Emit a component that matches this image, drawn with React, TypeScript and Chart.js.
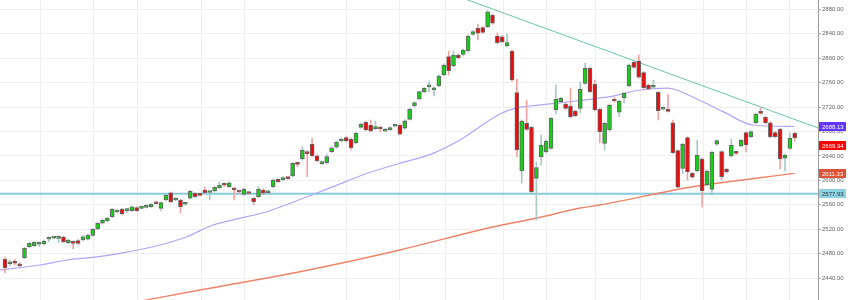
import React, { useEffect, useRef } from 'react';
import { Chart, registerables } from 'chart.js';

Chart.register(...registerables);

const opens = [
  2470.7, 2463.4, 2467.9, 2462.5, 2473.3, 2491.4, 2493.0, 2495.3, 2495.8, 2503.5,
  2505.5, 2505.1, 2507.2, 2497.9, 2499.5, 2501.2, 2502.3, 2503.5, 2510.0, 2520.3,
  2529.7, 2533.4, 2540.5, 2548.2, 2552.6, 2550.3, 2550.3, 2555.2, 2554.2, 2555.8,
  2556.8, 2564.5, 2554.2, 2567.8, 2579.7, 2567.8, 2567.8, 2560.8, 2570.6, 2578.8,
  2577.6, 2584.2, 2580.1, 2582.5, 2587.9, 2594.0, 2589.6, 2585.3, 2581.7, 2577.1,
  2579.2, 2570.6, 2573.2, 2584.2, 2579.7, 2589.6, 2601.7, 2601.0, 2603.8, 2607.1,
  2628.9, 2634.9, 2646.9, 2659.0, 2640.3, 2627.2, 2628.9, 2646.9, 2654.1, 2664.4,
  2669.8, 2667.2, 2661.6, 2686.8, 2695.0, 2690.6, 2684.5, 2686.8, 2680.3, 2682.9,
  2688.6, 2690.6, 2685.2, 2699.9, 2721.7, 2733.1, 2745.1, 2752.9, 2747.9, 2754.9,
  2772.4, 2802.4, 2787.6, 2805.2, 2806.3, 2811.7, 2839.0, 2848.9, 2849.9, 2851.5,
  2870.6, 2836.3, 2835.1, 2819.9, 2811.7, 2743.5, 2615.3, 2693.4, 2686.8, 2603.3,
  2638.7, 2646.9, 2652.4, 2715.1, 2728.7, 2724.9, 2721.7, 2713.5, 2717.9, 2758.8,
  2783.4, 2757.2, 2716.3, 2660.6, 2682.4, 2733.1, 2711.4, 2735.3, 2754.9, 2793.2,
  2795.3, 2776.2, 2756.1, 2752.3, 2744.1, 2716.3, 2716.8, 2694.3, 2648.5, 2619.7,
  2669.8, 2611.5, 2615.3, 2634.9, 2592.4, 2585.3, 2659.0, 2646.9, 2618.5, 2639.8,
  2646.4, 2656.2, 2678.0, 2671.4, 2694.3, 2712.4, 2703.2, 2694.3, 2678.0, 2683.5,
  2636.1, 2652.4, 2677.0,
];
const highs = [
  2474.5, 2469.6, 2470.4, 2465.0, 2490.5, 2498.5, 2500.0, 2499.0, 2502.0, 2507.7,
  2508.0, 2509.0, 2509.0, 2503.5, 2501.0, 2503.0, 2510.0, 2512.0, 2521.0, 2531.0,
  2536.5, 2539.5, 2554.0, 2552.0, 2554.0, 2554.0, 2558.5, 2557.0, 2558.0, 2560.5,
  2562.0, 2566.0, 2564.5, 2577.5, 2581.0, 2572.0, 2569.0, 2563.0, 2584.0, 2580.0,
  2579.0, 2589.1, 2582.0, 2590.0, 2597.3, 2596.0, 2597.5, 2588.0, 2583.0, 2587.0,
  2580.5, 2572.0, 2590.7, 2586.0, 2584.5, 2602.0, 2603.0, 2606.0, 2605.0, 2629.5,
  2630.0, 2655.4, 2648.5, 2668.8, 2642.0, 2632.0, 2643.1, 2655.0, 2664.5, 2669.0,
  2671.5, 2669.0, 2678.5, 2694.0, 2697.0, 2698.8, 2697.1, 2688.5, 2685.0, 2687.5,
  2690.5, 2692.0, 2699.0, 2718.0, 2728.5, 2746.5, 2752.0, 2762.6, 2753.0, 2772.5,
  2790.5, 2811.7, 2811.7, 2807.0, 2815.0, 2838.0, 2845.0, 2855.9, 2851.5, 2878.0,
  2872.0, 2841.2, 2837.0, 2840.4, 2813.5, 2765.9, 2699.0, 2731.5, 2688.5, 2630.0,
  2674.2, 2666.0, 2703.0, 2756.1, 2736.0, 2727.0, 2751.2, 2715.0, 2761.0, 2792.1,
  2785.0, 2764.2, 2718.0, 2695.0, 2725.0, 2735.0, 2731.5, 2744.0, 2790.5, 2795.0,
  2805.2, 2778.0, 2757.5, 2764.2, 2746.0, 2720.5, 2741.3, 2698.8, 2650.0, 2661.0,
  2671.5, 2613.0, 2666.0, 2636.5, 2617.0, 2648.0, 2666.5, 2648.5, 2620.0, 2667.7,
  2648.0, 2667.5, 2679.5, 2681.0, 2710.0, 2718.4, 2705.0, 2696.0, 2680.0, 2685.0,
  2643.0, 2677.5, 2679.0,
];
const lows = [
  2448.3, 2459.8, 2461.4, 2458.0, 2471.5, 2490.0, 2491.5, 2492.0, 2494.0, 2499.5,
  2504.0, 2497.9, 2498.0, 2496.5, 2487.6, 2495.0, 2500.5, 2502.0, 2508.5, 2519.0,
  2528.5, 2532.0, 2539.0, 2547.0, 2543.5, 2546.5, 2549.0, 2549.0, 2553.0, 2554.5,
  2555.5, 2560.5, 2549.8, 2566.5, 2563.5, 2566.5, 2546.5, 2559.0, 2569.0, 2572.0,
  2574.0, 2578.0, 2567.8, 2581.0, 2586.5, 2590.0, 2588.0, 2567.8, 2579.0, 2575.5,
  2577.0, 2559.6, 2571.5, 2577.0, 2578.0, 2588.0, 2596.5, 2599.5, 2601.5, 2605.5,
  2622.3, 2633.0, 2606.0, 2638.5, 2630.0, 2625.5, 2627.0, 2645.5, 2652.5, 2663.0,
  2663.0, 2649.6, 2660.0, 2685.0, 2681.0, 2679.0, 2683.0, 2679.9, 2679.0, 2681.5,
  2687.5, 2674.0, 2683.5, 2698.5, 2720.0, 2731.5, 2743.5, 2745.1, 2738.1, 2753.5,
  2771.0, 2772.4, 2786.0, 2799.0, 2803.5, 2810.0, 2837.5, 2829.7, 2840.5, 2850.0,
  2855.5, 2823.5, 2825.0, 2818.5, 2762.5, 2638.7, 2595.6, 2681.5, 2579.5, 2535.1,
  2625.1, 2645.0, 2651.0, 2708.6, 2727.0, 2716.0, 2702.5, 2704.0, 2710.2, 2757.0,
  2743.5, 2713.5, 2661.1, 2649.6, 2681.0, 2728.0, 2704.2, 2726.6, 2753.5, 2783.5,
  2767.0, 2750.0, 2748.0, 2751.0, 2698.8, 2715.0, 2711.5, 2643.5, 2587.0, 2610.4,
  2600.5, 2603.5, 2613.5, 2556.3, 2591.0, 2576.0, 2657.5, 2600.5, 2612.5, 2638.0,
  2642.5, 2654.5, 2646.4, 2670.0, 2693.0, 2708.0, 2692.5, 2669.5, 2669.5, 2618.5,
  2615.3, 2650.5, 2664.4,
];
const closes = [
  2457.0, 2465.0, 2464.2, 2460.2, 2488.7, 2497.0, 2498.6, 2496.1, 2500.7, 2504.3,
  2506.6, 2507.7, 2499.5, 2502.3, 2496.9, 2496.9, 2507.7, 2510.5, 2519.8, 2529.7,
  2535.1, 2538.3, 2552.6, 2550.3, 2544.9, 2552.6, 2556.8, 2550.3, 2556.8, 2559.1,
  2560.8, 2561.7, 2563.4, 2576.0, 2565.0, 2570.6, 2556.8, 2561.6, 2582.0, 2573.2,
  2575.5, 2579.7, 2580.7, 2588.6, 2592.4, 2591.9, 2596.1, 2584.5, 2580.9, 2585.3,
  2578.5, 2565.0, 2585.8, 2578.8, 2583.0, 2600.5, 2597.8, 2604.3, 2602.8, 2627.9,
  2626.2, 2649.6, 2643.6, 2640.3, 2631.6, 2630.5, 2638.7, 2653.4, 2662.7, 2667.2,
  2664.4, 2653.4, 2677.0, 2692.2, 2682.4, 2680.8, 2687.8, 2684.0, 2683.5, 2686.1,
  2689.3, 2675.4, 2697.6, 2716.3, 2727.1, 2745.1, 2750.7, 2753.6, 2751.6, 2770.8,
  2788.8, 2779.5, 2805.2, 2800.7, 2813.4, 2836.3, 2843.3, 2840.7, 2842.3, 2876.0,
  2857.1, 2825.3, 2826.9, 2825.3, 2764.2, 2649.6, 2697.1, 2683.5, 2581.4, 2620.7,
  2657.8, 2664.4, 2701.5, 2733.1, 2734.3, 2717.9, 2704.2, 2705.8, 2749.0, 2783.4,
  2745.1, 2715.1, 2679.6, 2693.4, 2723.3, 2729.9, 2729.9, 2742.5, 2788.8, 2785.0,
  2768.7, 2751.6, 2749.5, 2754.9, 2714.0, 2718.9, 2713.0, 2645.2, 2588.6, 2659.5,
  2613.6, 2605.0, 2641.5, 2583.0, 2615.3, 2645.9, 2664.9, 2606.0, 2614.1, 2657.8,
  2644.2, 2666.0, 2657.8, 2679.6, 2708.6, 2709.7, 2694.3, 2671.4, 2671.4, 2634.9,
  2641.5, 2668.8, 2669.94,
];

// 50-period moving average (index, value)
const ma50Idx = [-1.1, 7.2, 12.7, 18, 23.6, 31.8, 37.3, 42.7, 48.2, 53.7, 60.5, 67.3, 74.3, 81, 87.8, 93.3, 97.4, 101.5, 104.6, 111.8, 118, 124, 130.3, 136, 141.5, 147.3, 153.4, 162];
const ma50Val = [2453.2, 2461.4, 2469.6, 2474.0, 2480.5, 2494.1, 2507.7, 2526.9, 2537.8, 2548.6, 2568.6, 2589.6, 2611.5, 2627.9, 2644.2, 2666.0, 2687.8, 2708.6, 2717.9, 2725.0, 2730.7, 2736.9, 2747.9, 2751.1, 2734.8, 2712.4, 2690.6, 2688.13];

// 200-period moving average
const ma200Idx = [27, 40, 60.5, 81, 97.4, 101.5, 109.1, 118, 122, 140.5, 162];
const ma200Val = [2401.0, 2420.5, 2450.4, 2486.0, 2518.7, 2526.0, 2538.3, 2554.7, 2559.6, 2588.6, 2611.33];

const supportLevel = 2577.93;
const trendIdx = [90, 170];
const trendVal = [2909.7, 2676.3];

const gridIdx = [7.32, 18.1, 27.1, 40.35, 49.2, 70.1, 81.0, 90.3, 102.2, 111.1, 121.2, 130.3, 143.2, 152.1, 161.0];
const yTicks = [2440, 2480, 2520, 2560, 2600, 2640, 2680, 2720, 2760, 2800, 2840, 2880];

const X_MIN = -1.0256;
const X_MAX = 166.77;
const Y_MIN = 2404.1;
const Y_MAX = 2895.2;

const GREEN = '#19cc19';
const RED = '#ee0b0b';

export default function App() {
  const ref = useRef<HTMLCanvasElement | null>(null);

  useEffect(() => {
    if (!ref.current) return;
    const n = closes.length;
    const up = closes.map((c, i) => c >= opens[i]);
    const bodyColors = up.map((u) => (u ? GREEN : RED));
    const wickColors = up.map((u) => (u ? '#a9c9c9' : '#f4a3a3'));
    const last = n - 1;

    const tags = [
      { value: ma50Val[ma50Val.length - 1], bg: '#6236ff', fg: '#ffffff' },
      { value: closes[last], bg: '#ff0000', fg: '#ffffff' },
      { value: ma200Val[ma200Val.length - 1], bg: '#dc5437', fg: '#ffffff' },
      { value: supportLevel, bg: '#8dd2e2', fg: '#333333' },
    ];

    const tagPlugin = {
      id: 'priceTags',
      afterDraw(chart: any) {
        const { ctx, chartArea } = chart;
        const ys = chart.scales.y;
        const items = tags
          .map((t) => ({ ...t, y: ys.getPixelForValue(t.value) }))
          .sort((a, b) => a.y - b.y);
        const minGap = 19.5;
        for (let k = 1; k < items.length; k++) {
          if (items[k].y - items[k - 1].y < minGap) items[k].y = items[k - 1].y + minGap;
        }
        ctx.save();
        ctx.font = '6px "Liberation Sans", Arial, sans-serif';
        ctx.textBaseline = 'middle';
        ctx.textAlign = 'left';
        const x0 = chartArea.right + 1;
        const w = 27;
        const h = 9;
        for (const it of items) {
          ctx.fillStyle = it.bg;
          ctx.fillRect(x0, Math.round(it.y - h / 2), w, h);
          ctx.fillStyle = it.fg;
          ctx.fillText(it.value.toFixed(2), x0 + 3, it.y + 0.5);
        }
        ctx.restore();
      },
    };

    const chart = new Chart(ref.current, {
      type: 'bar',
      data: {
        datasets: [
          {
            type: 'bar',
            label: 'body',
            data: closes.map((c, i) => ({ x: i, y: [opens[i], c] })) as any,
            backgroundColor: bodyColors,
            borderColor: '#666666',
            borderWidth: 1,
            borderSkipped: false,
            barThickness: 4,
            minBarLength: 2,
            grouped: false,
            order: 0,
          } as any,
          {
            type: 'bar',
            label: 'wick',
            data: highs.map((h, i) => ({ x: i, y: [lows[i], h] })) as any,
            backgroundColor: wickColors,
            borderWidth: 0,
            barThickness: 1,
            grouped: false,
            order: 1,
          } as any,
          {
            type: 'line',
            label: 'MA50',
            data: ma50Idx.map((x, k) => ({ x, y: ma50Val[k] })),
            borderColor: '#b4a4f8',
            borderWidth: 1.2,
            pointRadius: 0,
            cubicInterpolationMode: 'monotone',
            order: 2,
          } as any,
          {
            type: 'line',
            label: 'MA200',
            data: ma200Idx.map((x, k) => ({ x, y: ma200Val[k] })),
            borderColor: '#ef8468',
            borderWidth: 1.4,
            pointRadius: 0,
            cubicInterpolationMode: 'monotone',
            order: 2,
          } as any,
          {
            type: 'line',
            label: 'support',
            data: [
              { x: X_MIN - 2, y: supportLevel },
              { x: X_MAX + 2, y: supportLevel },
            ],
            borderColor: '#86cbdc',
            borderWidth: 2,
            pointRadius: 0,
            order: 3,
          } as any,
          {
            type: 'line',
            label: 'trend',
            data: trendIdx.map((x, k) => ({ x, y: trendVal[k] })),
            borderColor: '#6cc4ad',
            borderWidth: 1,
            pointRadius: 0,
            order: 3,
          } as any,
        ],
      },
      options: {
        animation: false,
        responsive: true,
        maintainAspectRatio: false,
        layout: { padding: 0 },
        plugins: { legend: { display: false }, tooltip: { enabled: false } },
        scales: {
          x: {
            type: 'linear',
            min: X_MIN,
            max: X_MAX,
            offset: false,
            grid: { color: '#efefef', drawTicks: false, offset: false },
            border: { display: false },
            ticks: { display: false },
            afterBuildTicks: (s: any) => {
              s.ticks = gridIdx.map((v) => ({ value: v }));
            },
            afterFit: (s: any) => {
              s.height = 0;
              s.paddingLeft = 0;
              s.paddingRight = 0;
            },
          },
          y: {
            position: 'right',
            min: Y_MIN,
            max: Y_MAX,
            grid: { color: '#efefef', tickLength: 3, tickColor: '#aaaaaa' },
            border: { color: '#999999' },
            ticks: {
              font: { size: 6, family: '"Liberation Sans", Arial, sans-serif' },
              color: '#666666',
              padding: 1,
              callback: (v: any) => Number(v).toFixed(2),
            },
            afterBuildTicks: (s: any) => {
              s.ticks = yTicks.map((v) => ({ value: v }));
            },
            afterFit: (s: any) => {
              s.width = 32;
              s.paddingTop = 0;
              s.paddingBottom = 0;
            },
          },
        },
      } as any,
      plugins: [tagPlugin],
    });
    return () => chart.destroy();
  }, []);

  return (
    <div style={{ position: 'absolute', left: 0, top: 0, width: 850, height: 300, background: '#ffffff' }}>
      <canvas ref={ref} />
    </div>
  );
}
